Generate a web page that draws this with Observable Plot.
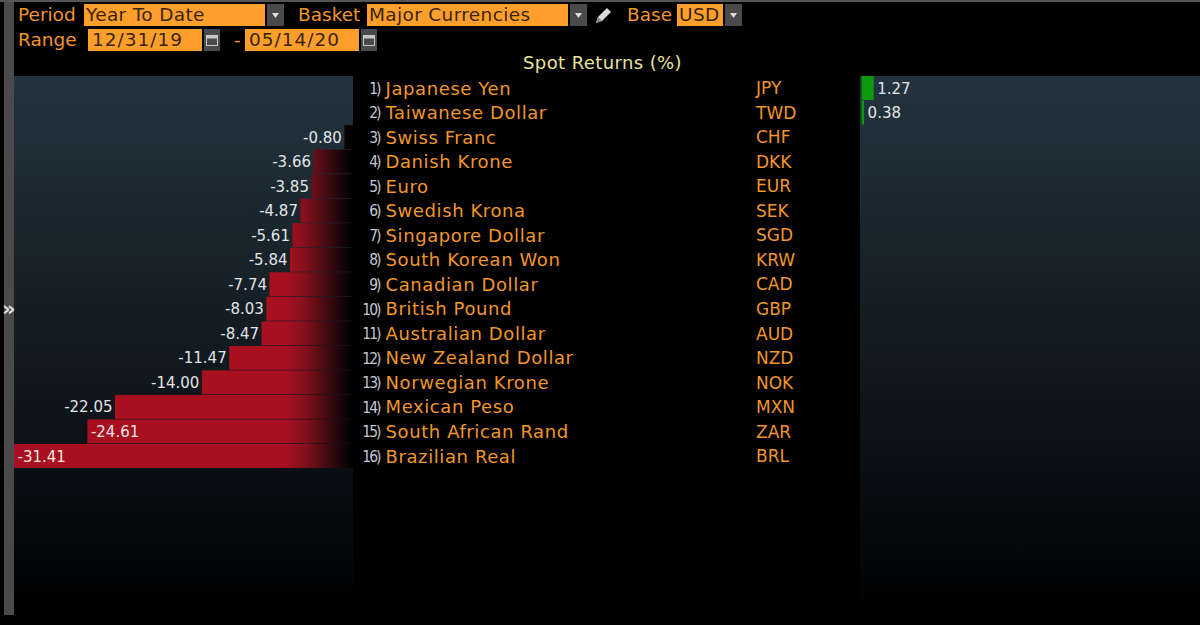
<!DOCTYPE html>
<html><head><meta charset="utf-8">
<script src="https://cdn.jsdelivr.net/npm/d3@7"></script>
<script src="https://cdn.jsdelivr.net/npm/@observablehq/plot@0.6"></script>
<style>
html,body{margin:0;padding:0;background:#000;width:1200px;height:625px;overflow:hidden}
#wrap{position:relative;width:1200px;height:625px;font-family:"DejaVu Sans",sans-serif}
#wrap svg.plot{position:absolute;left:0;top:0}
.c{position:absolute;white-space:nowrap;font-size:18.5px;line-height:22px;height:22px}
.l{color:#f0962a}
.f{background:#ff9f2b;color:#3a2408;padding-left:2px;box-sizing:border-box;letter-spacing:.35px}
.b{background:#4a4a4c;color:#ddd;text-align:center}
.b svg{display:block;margin:auto}
.t-name{letter-spacing:.6px}
.t-rank{letter-spacing:-2px}
.t-title{letter-spacing:.4px}
</style></head><body>
<div id="wrap"></div>
<script>
const names = ["Japanese Yen","Taiwanese Dollar","Swiss Franc","Danish Krone","Euro","Swedish Krona","Singapore Dollar","South Korean Won","Canadian Dollar","British Pound","Australian Dollar","New Zealand Dollar","Norwegian Krone","Mexican Peso","South African Rand","Brazilian Real"];
const tickers = ["JPY","TWD","CHF","DKK","EUR","SEK","SGD","KRW","CAD","GBP","AUD","NZD","NOK","MXN","ZAR","BRL"];
const returns = [1.27,0.38,-0.80,-3.66,-3.85,-4.87,-5.61,-5.84,-7.74,-8.03,-8.47,-11.47,-14.00,-22.05,-24.61,-31.41];
const title = "Spot Returns (%)";
const rows = returns.map((v,i)=>({rank:i+1,name:names[i],ticker:tickers[i],v}));
const neg = rows.filter(d=>d.v<0), pos = rows.filter(d=>d.v>=0);
const inside = d=>d.v<-24;
const panelY = {y1:0,y2:21.95};
const rightShift = 507;

const defs = () => {
  const s = d3.create("svg:g");
  const d = s.append("defs");
  const bg = d.append("linearGradient").attr("id","panelBg").attr("gradientUnits","userSpaceOnUse")
    .attr("x1",0).attr("x2",0).attr("y1",76).attr("y2",615);
  [[0,"#233440"],[0.12,"#1f2e38"],[0.45,"#141d24"],[0.75,"#0a0e12"],[1,"#000"]].forEach(([o,c])=>bg.append("stop").attr("offset",o).attr("stop-color",c));
  const r = d.append("linearGradient").attr("id","redFade").attr("gradientUnits","userSpaceOnUse")
    .attr("x1",14).attr("x2",353).attr("y1",0).attr("y2",0);
  [[0,"#a81020"],[0.8,"#a81020"],[0.86,"#82101c"],[0.93,"#3c0a10"],[0.985,"#070304"],[1,"#000"]].forEach(([o,c])=>r.append("stop").attr("offset",o).attr("stop-color",c));
  return s.node();
};

const plot = Plot.plot({
  width:1200,height:625,margin:0,
  style:{background:"#000",fontFamily:"'DejaVu Sans',sans-serif"},
  x:{type:"linear",domain:[-31.41,0],range:[14,353],axis:null},
  y:{type:"linear",domain:[0,16],range:[76,468.5],axis:null},
  marks:[
    defs,
    Plot.rect([panelY],{x1:-31.41,x2:0,y1:"y1",y2:"y2",fill:"url(#panelBg)"}),
    Plot.rect([panelY],{x1:0,x2:31.6,y1:"y1",y2:"y2",fill:"url(#panelBg)",dx:rightShift}),
    Plot.rect(neg,{x1:"v",x2:0,y1:d=>d.rank-1,y2:d=>d.rank,fill:"url(#redFade)",insetBottom:0.6}),
    Plot.rect(pos,{x1:0.15,x2:"v",y1:d=>d.rank-1,y2:d=>d.rank,fill:"#0a9a0c",dx:rightShift,insetBottom:0.6}),
    Plot.text(neg.filter(d=>!inside(d)),{x:"v",y:d=>d.rank-0.5,text:d=>d.v.toFixed(2),textAnchor:"end",dx:-3,fill:"#e2e4e6",fontSize:15}),
    Plot.text(neg.filter(inside),{x:"v",y:d=>d.rank-0.5,text:d=>d.v.toFixed(2),textAnchor:"start",dx:3,fill:"#f0e4e4",fontSize:15}),
    Plot.text(pos,{x:"v",y:d=>d.rank-0.5,text:d=>d.v.toFixed(2),textAnchor:"start",dx:rightShift+3,fill:"#e2e4e6",fontSize:15}),
    Plot.text(rows,{className:"t-rank",frameAnchor:"left",dx:379,y:d=>d.rank-0.5,text:d=>d.rank+")",textAnchor:"end",fill:"#c2c8d0",fontSize:15.5,fontFamily:"'DejaVu Sans Condensed','DejaVu Sans',sans-serif"}),
    Plot.text(rows,{className:"t-name",frameAnchor:"left",dx:385,y:d=>d.rank-0.5,text:"name",textAnchor:"start",fill:"#f0962a",fontSize:18}),
    Plot.text(rows,{frameAnchor:"left",dx:755.5,y:d=>d.rank-0.5,text:"ticker",textAnchor:"start",fill:"#f0962a",fontSize:17}),
    Plot.text([title],{className:"t-title",frameAnchor:"left",dx:602,y:-0.55,text:d=>d,textAnchor:"middle",fill:"#e6e49a",fontSize:18})
  ]
});
const wrap = document.getElementById("wrap");
wrap.appendChild(plot);

const caret = '<svg width="9" height="22" viewBox="0 0 9 22"><path d="M1 9h7l-3.5 5z" fill="#ddd"/></svg>';
const cal = '<svg width="16" height="22" viewBox="0 0 16 22"><rect x="2.5" y="6.5" width="11" height="10" fill="none" stroke="#c8c8c8"/><rect x="2.5" y="6.5" width="11" height="3" fill="#c8c8c8"/></svg>';
const controls = [
 ["l",18,4,60,"Period"],["f",84,4,181,"Year To Date"],["b",267,4,17,caret],
 ["l",298,4,62,"Basket"],["f",367,4,201,"Major Currencies"],["b",570,4,17,caret],
 ["l",627,4,44,"Base"],["f",677,4,46,"USD"],["b",725,4,17,caret],
 ["l",18,29,60,"Range"],["f",88,29,114,"12/31/19"],["b",204,29,16,cal],
 ["l",234,29,12,"-"],["f",245,29,114,"05/14/20"],["b",361,29,16,cal]
];
controls.forEach(([k,x,y,w,t])=>{
  const e=document.createElement("div");
  e.className="c "+k;
  e.style.left=x+"px";e.style.top=y+"px";e.style.width=w+"px";
  if(k==="f"&&(t.includes("/"))){e.style.paddingLeft="4px";e.style.letterSpacing="1px";}
  e.innerHTML=t;wrap.appendChild(e);
});
// window chrome
const chrome=[[4,0,10,615,"#4a4a4c"],[0,0,1200,1.5,"#555"]];
chrome.forEach(([x,y,w,h,c])=>{const e=document.createElement("div");e.style.cssText=`position:absolute;left:${x}px;top:${y}px;width:${w}px;height:${h}px;background:${c}`;wrap.appendChild(e);});
const arrow=document.createElement("div");
arrow.textContent="»";arrow.style.cssText='position:absolute;left:2px;top:298px;width:13px;text-align:center;color:#ddd;font-size:21px;line-height:22px;font-weight:bold';
wrap.appendChild(arrow);
const pen=document.createElement("div");
pen.innerHTML='<svg width="20" height="20" viewBox="0 0 20 20"><path d="M2 18l2-6 9-9 4 4-9 9z" fill="#dcdcdc"/><path d="M2 18l2-6 4 4z" fill="#888"/></svg>';
pen.style.cssText='position:absolute;left:594px;top:5px';
wrap.appendChild(pen);
</script>
</body></html>
